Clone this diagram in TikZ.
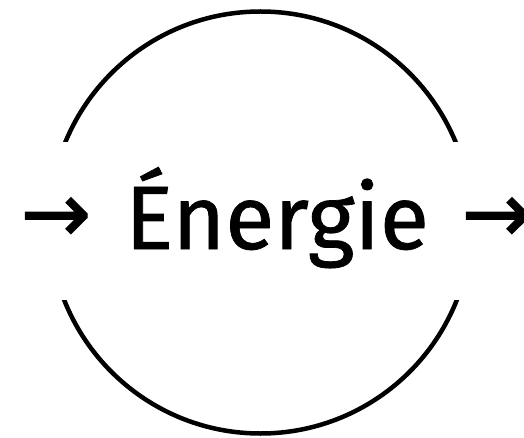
\documentclass[tikz,border=0pt]{standalone}
\usepackage{fontspec}
\setmainfont{Fira Sans}
\newfontfamily\wordfont[FakeBold=0.8]{Fira Sans}
\newfontfamily\arrowfont[FakeBold=1.5]{DejaVu Sans}
\usepackage{tikz}
\usetikzlibrary{positioning}
\tikzstyle{band} = [fill=white, minimum width=524pt, minimum height=158pt, inner sep=0pt]
\tikzstyle{word} = [font=\wordfont\fontsize{90}{100}\selectfont, inner sep=0pt, anchor=base]
\tikzstyle{arrowglyph} = [font=\arrowfont\fontsize{84}{90}\selectfont, inner sep=0pt, anchor=base]

\begin{document}
\begin{tikzpicture}[x=1pt, y=-1pt]
    \useasboundingbox (0,0) rectangle (524,438);
    \draw[line width=4.5pt] (260.5,222.5) circle (211pt);
    \node[band] (cut) at (262,221) {};
    \node[word] (energie) at (277,249) {Énergie};
    \node[arrowglyph] (inarrow) at (56,242) {→};
    \node[arrowglyph] (outarrow) at (497,242) {→};
\end{tikzpicture}
\end{document}
